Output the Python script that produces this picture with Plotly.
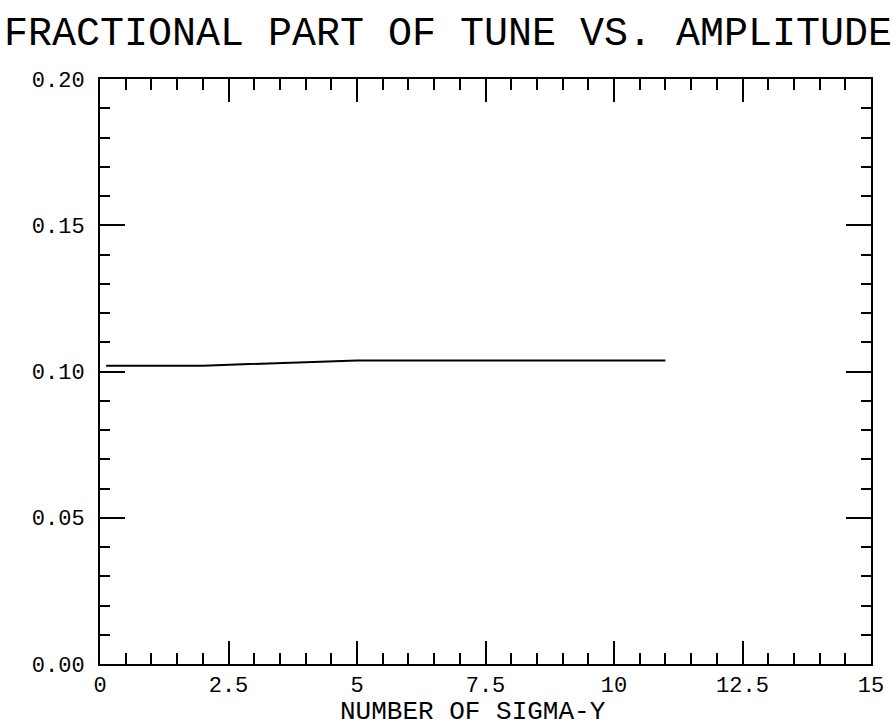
import plotly.graph_objects as go

# Fractional tune against oscillation amplitude (in units of sigma-y)
amplitude = [0.12, 2.0, 5.0, 7.0, 9.0, 11.0]
tune_frac = [0.1020, 0.1020, 0.1038, 0.1038, 0.1039, 0.1038]

x_tick_vals = [0, 2.5, 5, 7.5, 10, 12.5, 15]
x_tick_text = ["0", "2.5", "5", "7.5", "10", "12.5", "15"]
y_tick_vals = [0.00, 0.05, 0.10, 0.15, 0.20]
y_tick_text = ["0.00", "0.05", "0.10", "0.15", "0.20"]

FONT = "Liberation Mono"

fig = go.Figure()
fig.add_trace(go.Scatter(
    x=amplitude, y=tune_frac, mode="lines",
    line=dict(color="black", width=2),
    showlegend=False,
))

axis_common = dict(
    showgrid=False, zeroline=False,
    showline=True, linecolor="black", linewidth=2,
    mirror="allticks", ticks="inside", tickcolor="black", tickwidth=2,
    tickfont=dict(family=FONT, size=22, color="black"),
)

fig.update_xaxes(
    range=[0, 15], tickvals=x_tick_vals, ticktext=x_tick_text,
    ticklen=23,
    minor=dict(dtick=0.5, ticks="inside", ticklen=11, tickwidth=2, tickcolor="black"),
    **axis_common,
)
fig.update_yaxes(
    range=[0, 0.2], tickvals=y_tick_vals, ticktext=y_tick_text,
    ticklen=25, ticklabelstandoff=9,
    minor=dict(dtick=0.01, ticks="inside", ticklen=10, tickwidth=2, tickcolor="black"),
    **axis_common,
)

fig.add_annotation(
    text="NUMBER OF SIGMA-Y", xref="paper", yref="paper",
    x=0.484, y=-0.082, xanchor="center", yanchor="middle",
    showarrow=False, font=dict(family=FONT, size=26, color="black"),
)

fig.update_layout(
    width=896, height=727,
    margin=dict(l=100, r=15, t=79, b=63),
    paper_bgcolor="white", plot_bgcolor="white",
    title=dict(
        text="FRACTIONAL PART OF TUNE VS. AMPLITUDE",
        font=dict(family=FONT, size=40, color="black"),
        x=0.5, xanchor="center", xref="container",
        y=1 - 31 / 727, yanchor="middle", yref="container",
    ),
)

fig.write_html("out.html")
